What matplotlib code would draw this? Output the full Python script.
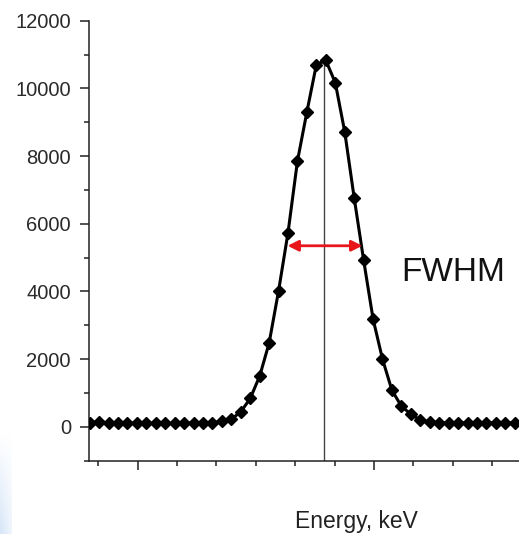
import numpy as np
import matplotlib
matplotlib.use("Agg")
import matplotlib.pyplot as plt
from matplotlib.colors import LinearSegmentedColormap
from matplotlib.ticker import FixedLocator, MultipleLocator, NullFormatter

plt.rcParams['font.family'] = ['Liberation Sans', 'DejaVu Sans']

# channel index of each measured point
channel = np.arange(46)
# counts
counts = [118, 148, 118, 100, 118, 100, 109, 100, 100, 100, 100, 118, 109, 100,
          178, 228, 444, 840, 1500, 2480, 4020, 5740, 7860, 9310, 10700, 10830,
          10170, 8720, 6770, 4930, 3190, 2000, 1080, 610, 375, 200, 140,
          118, 118, 110, 118, 110, 118, 118, 110, 118]
peak_pos = 24.77
peak_height = 10850
half_left, half_right = 20.95, 28.87
half_level = 5350
y_ticks = [0, 2000, 4000, 6000, 8000, 10000, 12000]
x_label = "Energy, keV"
fwhm_label = "FWHM"

fig = plt.figure(figsize=(5.19, 5.34), dpi=100)
ax = fig.add_axes([89 / 519, 1 - 460.7 / 534, 1 - 89 / 519, (460.7 - 20.7) / 534])

ax.plot(channel, counts, color='black', lw=2.2, marker='D', markersize=6.3,
        markerfacecolor='black', markeredgecolor='black', zorder=3)
ax.vlines(peak_pos, -1000, peak_height, color='#444444', lw=1.0, zorder=2)
ax.annotate('', xy=(half_right, half_level), xytext=(half_left, half_level),
            arrowprops=dict(arrowstyle='<|-|>', color='#e8161b', lw=2.0,
                            mutation_scale=16, shrinkA=0, shrinkB=0), zorder=4)
ax.text(33.0, half_level - 1030, fwhm_label, fontsize=24, color='#111111',
        ha='left', va='baseline')

ax.set_ylim(-1000, 12000)
ax.set_xlim(-0.07, 45.45)
ax.set_yticks(y_ticks)
ax.yaxis.set_minor_locator(MultipleLocator(1000))
x_minor = 0.92 + 4.167 * np.arange(11)
ax.xaxis.set_major_locator(FixedLocator([x_minor[1], x_minor[7]]))
ax.xaxis.set_minor_locator(FixedLocator(x_minor))
ax.xaxis.set_major_formatter(NullFormatter())

for s in ['top', 'right']:
    ax.spines[s].set_visible(False)
for s in ['left', 'bottom']:
    ax.spines[s].set_linewidth(1.1)
    ax.spines[s].set_color('#222222')
ax.tick_params(which='major', direction='out', length=6.5, width=1.1,
               color='#222222', labelsize=14.5, labelcolor='#2a2a2a', pad=6.5)
ax.tick_params(which='minor', direction='out', length=3.7, width=1.1,
               color='#222222')

fig.text(356 / 519, 1 - 528.3 / 534, x_label, fontsize=16.5, color='#222222',
         ha='center', va='baseline')

# faint blue slide decoration in the lower-left corner
fade = LinearSegmentedColormap.from_list('fade', ['#ffffff', '#d6e5f8'])
bg = fig.add_axes([0, 0, 12 / 519, 100 / 534])
grad = np.linspace(1, 0.4, 12)[None, :] * np.linspace(0.0, 1, 100)[:, None]
bg.imshow(grad, cmap=fade, vmin=0, vmax=1, aspect='auto')
bg.axis('off')

fig.savefig('out.png', dpi=100)
